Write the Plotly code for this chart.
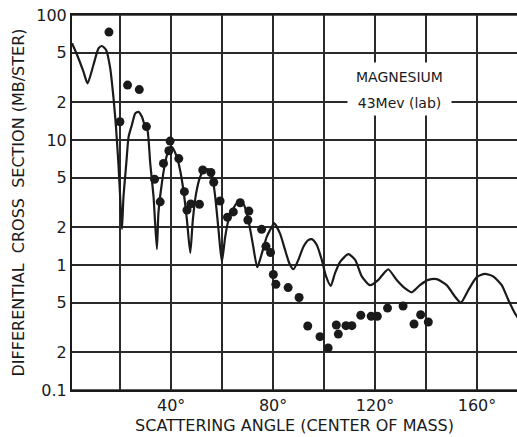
import plotly.graph_objects as go

# Measured data points (angle in degrees CM, cross section mb/ster)
data_angle = [15.6, 19.9, 22.9, 27.5, 30.3, 33.5, 35.7, 37.0, 39.1, 39.6,
              43.0, 45.2, 46.2, 47.7, 51.1, 52.4, 55.6, 56.7, 59.2, 62.1,
              64.4, 67.1, 70.1, 70.5, 75.5, 77.2, 79.0, 80.1, 81.1, 85.9,
              90.2, 93.6, 98.4, 101.6, 104.8, 105.6, 108.6, 110.9, 114.4, 118.5,
              120.9, 124.9, 131.0, 135.3, 137.9, 140.9]
data_sigma = [73, 14, 27.5, 25.3, 12.8, 4.85, 3.2, 6.5, 8.2, 9.8,
              7.1, 3.86, 2.75, 3.08, 3.06, 5.75, 5.5, 4.59, 3.25, 2.41,
              2.66, 3.15, 2.29, 2.7, 1.93, 1.41, 1.26, 0.84, 0.70, 0.66,
              0.55, 0.325, 0.267, 0.217, 0.331, 0.28, 0.327, 0.327, 0.396, 0.389,
              0.389, 0.452, 0.47, 0.337, 0.40, 0.35]

# Theoretical curve
curve_angle = [1.1, 3.1, 5.6, 7.2, 9.5, 11.5, 12.8, 14.5, 16.1, 17.4,
               18.3, 19.3, 20.0, 20.7, 21.3, 22.4, 23.3, 24.6, 25.9, 27.2,
               28.5, 29.8, 30.7, 31.8, 33.1, 34.4, 35.0, 36.0, 37.6, 39.2,
               40.3, 42.2, 43.5, 44.8, 46.2, 47.5, 48.5, 49.8, 51.4, 53.1,
               54.6, 56.0, 57.3, 58.6, 59.9, 61.2, 62.5, 64.4, 66.8, 68.6,
               70.3, 72.0, 73.8, 75.6, 77.5, 79.5, 80.4, 82.7, 84.7, 86.4,
               88.0, 89.9, 91.9, 93.8, 95.2, 97.1, 99.1, 100.8, 102.6, 104.3,
               106.3, 109.5, 112.2, 114.8, 118.0, 121.3, 123.9, 125.2, 128.5, 131.8,
               134.4, 137.6, 140.9, 144.2, 148.1, 151.4, 153.7, 156.6, 159.9, 163.1,
               166.4, 169.7, 172.3, 174.9, 176.0]
curve_sigma = [59.4, 47.9, 35.2, 28.4, 39.8, 54.0, 56.5, 52.5, 37.4, 21.5,
               13.2, 6.5, 3.5, 1.94, 3.5, 6.5, 10.6, 13.2, 16.3, 16.8,
               15.4, 12.8, 12.0, 6.5, 3.5, 1.34, 2.59, 3.98, 6.5, 8.6,
               8.8, 7.35, 5.75, 3.98, 2.29, 1.25, 2.29, 3.74, 5.08, 5.83,
               5.83, 5.25, 3.5, 1.9, 1.06, 1.68, 2.29, 2.84, 3.27, 3.02,
               2.29, 1.49, 0.96, 1.24, 1.68, 2.02, 2.16, 1.79, 1.32, 1.03,
               0.925, 1.1, 1.4, 1.58, 1.61, 1.45, 1.1, 0.81, 0.68, 0.86,
               1.06, 1.22, 1.1, 0.81, 0.69, 0.76, 0.88, 0.925, 0.76, 0.65,
               0.605, 0.69, 0.76, 0.77, 0.69, 0.557, 0.50, 0.63, 0.80, 0.85,
               0.81, 0.69, 0.525, 0.41, 0.38]

x_tickvals = [20, 40, 60, 80, 100, 120, 140, 160]
x_ticktext = ["", "40°", "", "80°", "", "120°", "", "160°"]
y_tickvals = [0.1, 0.2, 0.5, 1, 2, 5, 10, 20, 50, 100]
y_ticktext = ["0.1", "2", "5", "1", "2", "5", "10", "2", "5", "100"]

FONT = "DejaVu Sans"
INK = "#1a1a1a"
GRID = "#2a2a2a"

fig = go.Figure()
fig.add_trace(go.Scatter(
    x=curve_angle, y=curve_sigma, mode="lines",
    line=dict(color=INK, width=2.2, shape="spline", smoothing=0.6),
    hoverinfo="skip", showlegend=False))
fig.add_trace(go.Scatter(
    x=data_angle, y=data_sigma, mode="markers",
    marker=dict(color=INK, size=9),
    showlegend=False))

# grid drawn at the tick values, through the axes' own scales
for xv in x_tickvals:
    fig.add_shape(type="line", xref="x", yref="paper", x0=xv, x1=xv, y0=0, y1=1,
                  line=dict(color=GRID, width=1.5), layer="below")
for yv in y_tickvals:
    fig.add_shape(type="line", xref="paper", yref="y", x0=0, x1=1,
                  y0=yv, y1=yv,
                  line=dict(color=GRID, width=1.5), layer="below")

fig.update_layout(
    template="none",
    width=517, height=437,
    margin=dict(l=72, r=0, t=15, b=47),
    paper_bgcolor="white", plot_bgcolor="white",
    font=dict(family=FONT, color=INK),
    xaxis=dict(
        range=[1.1, 175.7], tickmode="array",
        tickvals=x_tickvals, ticktext=x_ticktext,
        showgrid=True, gridcolor=GRID, gridwidth=1.5,
        showline=True, linecolor=INK, linewidth=2, mirror=True,
        ticks="", tickfont=dict(size=16, family=FONT),
        title=dict(text="SCATTERING ANGLE (CENTER OF MASS)",
                   font=dict(size=16, family=FONT), standoff=6),
        zeroline=False),
    yaxis=dict(
        type="log", range=[-1, 2], tickmode="array",
        tickvals=y_tickvals, ticktext=y_ticktext,
        showgrid=True, gridcolor=GRID, gridwidth=1.5,
        showline=True, linecolor=INK, linewidth=2,
        ticks="", tickfont=dict(size=16, family=FONT),
        title=dict(text="DIFFERENTIAL  CROSS  SECTION (MB/STER)",
                   font=dict(size=16, family=FONT), standoff=8),
        zeroline=False),
)

fig.add_annotation(
    xref="paper", yref="paper", x=0.737, y=0.8347,
    xanchor="center", yanchor="middle",
    text="MAGNESIUM", showarrow=False,
    font=dict(size=14, family=FONT, color=INK),
    bgcolor="white", width=103, height=28, borderpad=0)
fig.add_annotation(
    xref="paper", yref="paper", x=0.737, y=0.7653,
    xanchor="center", yanchor="middle",
    text="43Mev (lab)", showarrow=False,
    font=dict(size=14, family=FONT, color=INK),
    bgcolor="white", width=103, height=24, borderpad=0)

fig.write_html("out.html", config={"displayModeBar": False},
               post_script="document.body.style.margin='0';document.body.style.padding='0';")
